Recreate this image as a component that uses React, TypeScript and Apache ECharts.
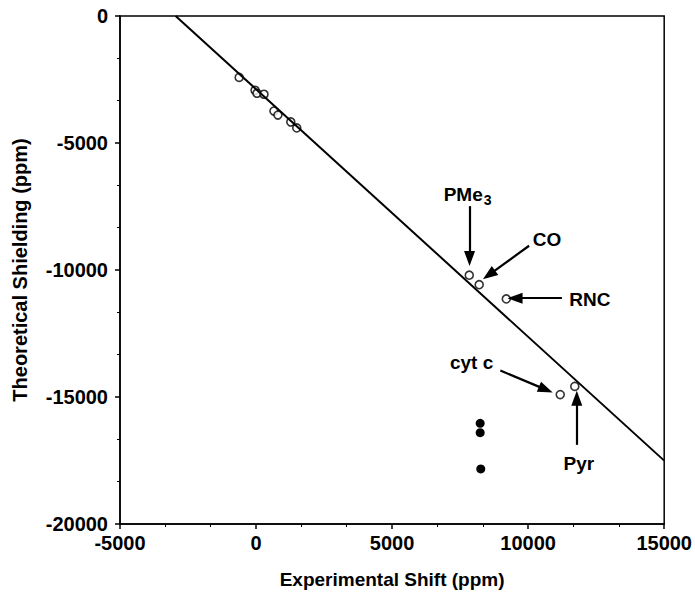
import React, { useEffect, useRef } from "react";
import * as echarts from "echarts";

// open circles: [experimental shift, theoretical shielding]
const openPoints: [number, number][] = [
  [-620, -2417],
  [-36, -2924],
  [36, -3041],
  [292, -3080],
  [657, -3743],
  [803, -3899],
  [1277, -4172],
  [1496, -4406],
  [7836, -10203],
  [8201, -10578],
  [9197, -11139],
  [11179, -14906],
  [11715, -14582],
];

// filled dots
const filledPoints: [number, number][] = [
  [8237, -16037],
  [8237, -16403],
  [8259, -17831],
];

// regression line end points
const fitLine: [number, number][] = [
  [-2956, 0],
  [15000, -17505],
];

// annotation labels (data coordinates of label centres)
const labelNames = ["PMe3", "CO", "RNC", "cyt c", "Pyr"];
const labelCoords: [number, number][] = [
  [7775, -7080],
  [10695, -8812],
  [12265, -11151],
  [7921, -13646],
  [11862, -17623],
];

// arrows: [from, to] in data coordinates
const arrows: [[number, number], [number, number]][] = [
  [[7847, -7485], [7847, -9550]],
  [[10036, -9045], [8560, -10190]],
  [[11241, -11112], [9520, -11112]],
  [[8978, -13958], [10650, -14710]],
  [[11788, -16883], [11788, -15050]],
];

const xTicks = { min: -5000, max: 15000, interval: 5000 };
const yTicks = { min: -20000, max: 0, interval: 5000 };

const FONT = "Liberation Sans";

export default function App() {
  const ref = useRef<HTMLDivElement>(null);
  useEffect(() => {
    if (!ref.current) return;
    const chart = echarts.init(ref.current, undefined, { renderer: "svg" });
    const axisCommon = {
      axisLine: { show: true, onZero: false, lineStyle: { color: "#000", width: 1.5 } },
      axisTick: { show: true, length: 5, lineStyle: { color: "#000", width: 1.5 } },
      minorTick: { show: true, splitNumber: 3, length: 3, lineStyle: { color: "#000", width: 1 } },
      splitLine: { show: false },
      axisLabel: {
        color: "#000",
        fontFamily: FONT,
        fontWeight: "bold",
        fontSize: 20,
        formatter: (v: number) => String(v),
      },
      nameLocation: "middle",
    };
    chart.setOption({
      animation: false,
      backgroundColor: "#fff",
      grid: {
        left: 120,
        top: 16,
        right: 27,
        bottom: 65,
        show: true,
        borderColor: "#000",
        borderWidth: 1.5,
      },
      xAxis: {
        type: "value",
        ...xTicks,
        ...axisCommon,
        name: "Experimental Shift (ppm)",
        nameGap: 46,
        nameTextStyle: { color: "#000", fontFamily: FONT, fontWeight: "bold", fontSize: 19 },
        axisLabel: { ...axisCommon.axisLabel, margin: 9 },
      },
      yAxis: {
        type: "value",
        ...yTicks,
        ...axisCommon,
        name: "Theoretical Shielding (ppm)",
        nameGap: 90,
        nameTextStyle: { color: "#000", fontFamily: FONT, fontWeight: "bold", fontSize: 20 },
        axisLabel: { ...axisCommon.axisLabel, margin: 12 },
      },
      series: [
        {
          type: "line",
          data: fitLine,
          symbol: "none",
          lineStyle: { color: "#000", width: 2 },
          silent: true,
          markLine: {
            silent: true,
            symbol: ["none", "triangle"],
            symbolSize: [11, 15],
            label: { show: false },
            lineStyle: { color: "#000", width: 2.2, type: "solid" },
            data: arrows.map(([a, b]) => [{ coord: a }, { coord: b }]),
          },
        },
        {
          type: "scatter",
          data: openPoints,
          symbol: "circle",
          symbolSize: 8,
          itemStyle: { color: "#fff", borderColor: "#000", borderWidth: 1.6 },
        },
        {
          type: "scatter",
          data: filledPoints,
          symbol: "circle",
          symbolSize: 9,
          itemStyle: { color: "#000", opacity: 1 },
        },
        {
          type: "scatter",
          data: labelCoords.map((c, i) => ({ value: c, name: labelNames[i] })),
          symbolSize: 0,
          silent: true,
          itemStyle: { opacity: 1 },
          label: {
            show: true,
            position: "inside",
            color: "#000",
            fontFamily: FONT,
            fontWeight: "bold",
            fontSize: 19,
            formatter: (p: any) =>
              p.name === "PMe3" ? "{m|PMe}{s|3}" : p.name,
            rich: {
              m: { fontFamily: FONT, fontWeight: "bold", fontSize: 19, color: "#000", verticalAlign: "top", lineHeight: 22 },
              s: { fontFamily: FONT, fontWeight: "bold", fontSize: 14, color: "#000", verticalAlign: "bottom", lineHeight: 14, padding: [12, 0, 0, 1] },
            },
          },
        },
      ],
    });
    return () => chart.dispose();
  }, []);
  return (
    <div
      ref={ref}
      style={{ position: "absolute", left: 0, top: 0, width: 695, height: 594 }}
    />
  );
}
